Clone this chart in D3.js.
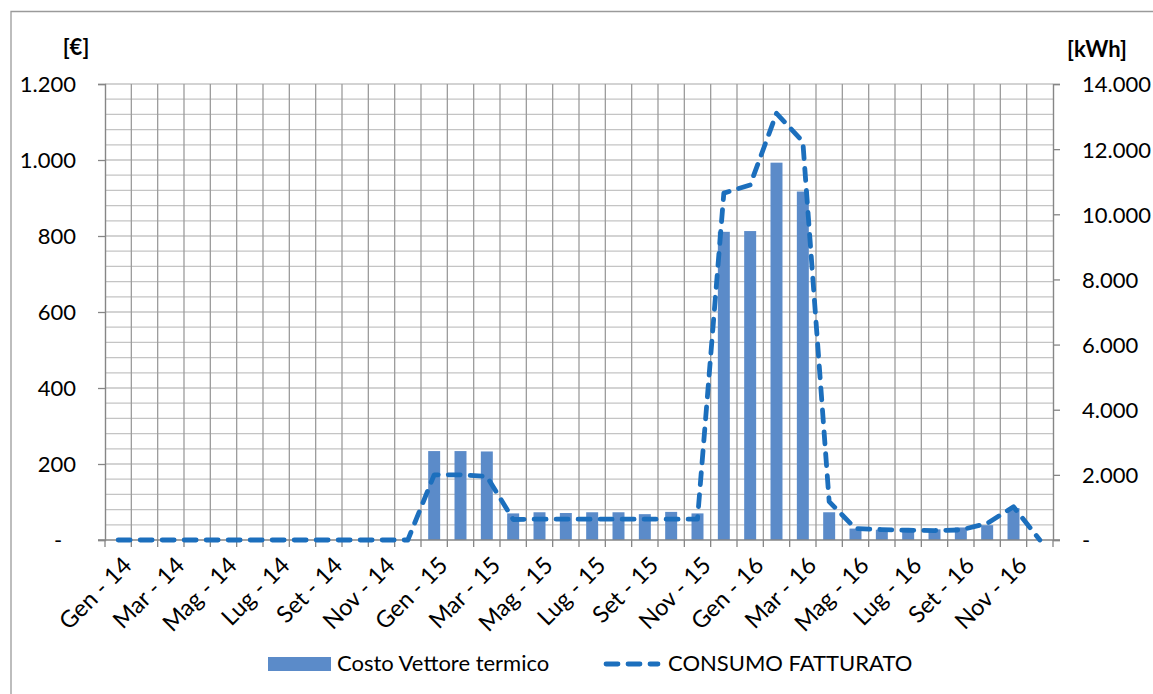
<!DOCTYPE html>
<html>
<head>
<meta charset="utf-8">
<script src="https://cdn.jsdelivr.net/npm/d3@7"></script>
<style>
  html, body { margin: 0; padding: 0; background: #ffffff; }
  svg { display: block; font-family: Lato, "Open Sans", sans-serif; }
</style>
</head>
<body>
<svg id="chart" width="1153" height="694"></svg>
<script>
// Monthly categories, January 2014 – December 2016
const categories = [
  "Gen - 14","Feb - 14","Mar - 14","Apr - 14","Mag - 14","Giu - 14","Lug - 14","Ago - 14","Set - 14","Ott - 14","Nov - 14","Dic - 14",
  "Gen - 15","Feb - 15","Mar - 15","Apr - 15","Mag - 15","Giu - 15","Lug - 15","Ago - 15","Set - 15","Ott - 15","Nov - 15","Dic - 15",
  "Gen - 16","Feb - 16","Mar - 16","Apr - 16","Mag - 16","Giu - 16","Lug - 16","Ago - 16","Set - 16","Ott - 16","Nov - 16","Dic - 16"
];

// Costo Vettore termico [€]
const costo = [
  0, 0, 0, 0, 0, 0, 0, 0, 0, 0, 0, 0,
  234, 234, 233, 70, 73, 71, 73, 73, 68, 74, 70, 811,
  813, 993, 917, 73, 30, 27, 26, 28, 33, 39, 84, 0
];

// CONSUMO FATTURATO [kWh]
const consumo = [
  0, 0, 0, 0, 0, 0, 0, 0, 0, 0, 0, 0,
  2000, 2000, 1950, 630, 640, 640, 640, 640, 640, 640, 640, 10650,
  10900, 13100, 12230, 1180, 350, 320, 300, 290, 310, 510, 1020, 0
];

// Axis tick values and labels
const leftTicks = [0, 200, 400, 600, 800, 1000, 1200];
const rightTicks = [0, 2000, 4000, 6000, 8000, 10000, 12000, 14000];
const xLabelEvery = 2;

const legendNames = ["Costo Vettore termico", "CONSUMO FATTURATO"];

const svg = d3.select("#chart");
const plot = { left: 105, right: 1053, top: 84, bottom: 540 };
const fontSize = 22;
const xFontSize = 23.5;

const barColor = "#5b8bc9";
const lineColor = "#1c6fbd";
const axisColor = "#868686";
const dash = "12,10";

const fmt = v => v === 0 ? "-" : d3.format(",")(v).replace(/,/g, ".");

// Scales
const x = d3.scaleBand()
  .domain(categories)
  .range([plot.left, plot.right])
  .paddingInner(0.545)
  .paddingOuter(0.2725);
const yL = d3.scaleLinear().domain([0, 1200]).range([plot.bottom, plot.top]);
const yR = d3.scaleLinear().domain([0, 14000]).range([plot.bottom, plot.top]);

const step = x.step();
const center = c => x(c) + x.bandwidth() / 2;
const boundaries = d3.range(categories.length + 1).map(i => plot.left + i * step);

// Outer chart frame (top and left edges visible)
svg.append("path")
  .attr("d", `M11,694 L11,11.5 L1153,11.5`)
  .attr("fill", "none")
  .attr("stroke", "#9a9a9a")
  .attr("stroke-width", 1.3);

// Horizontal gridlines every 40 €
const gridH = d3.range(40, 1201, 40);
svg.append("g").selectAll("line").data(gridH).join("line")
  .attr("x1", plot.left).attr("x2", plot.right)
  .attr("y1", d => yL(d)).attr("y2", d => yL(d))
  .attr("stroke", "#c4c4c4").attr("stroke-width", 1.3);

// Vertical gridlines at category boundaries
svg.append("g").selectAll("line").data(boundaries.slice(1, -1)).join("line")
  .attr("x1", d => d).attr("x2", d => d)
  .attr("y1", plot.top).attr("y2", plot.bottom)
  .attr("stroke", "#9c9c9c").attr("stroke-width", 1.3);

// Bars
svg.append("g").selectAll("rect").data(categories).join("rect")
  .attr("x", c => x(c))
  .attr("width", x.bandwidth())
  .attr("y", (c, i) => yL(costo[i]))
  .attr("height", (c, i) => plot.bottom - yL(costo[i]))
  .attr("fill", barColor);

// Left axis
const gL = svg.append("g").attr("transform", `translate(${plot.left},0)`)
  .call(d3.axisLeft(yL).tickValues(leftTicks).tickSize(7).tickFormat(fmt));
gL.select(".domain").attr("stroke", axisColor).attr("stroke-width", 1.4);
gL.selectAll(".tick line").attr("stroke", axisColor).attr("stroke-width", 1.3);
gL.selectAll(".tick text")
  .attr("font-family", "Lato, sans-serif").attr("font-size", fontSize).attr("fill", "#000")
  .attr("x", d => d === 0 ? -47 : -29)
  .attr("text-anchor", d => d === 0 ? "middle" : "end")
  .attr("dy", "0.36em");

// Right axis
const gR = svg.append("g").attr("transform", `translate(${plot.right},0)`)
  .call(d3.axisRight(yR).tickValues(rightTicks).tickSize(7).tickFormat(fmt));
gR.select(".domain").attr("stroke", axisColor).attr("stroke-width", 1.4);
gR.selectAll(".tick line").attr("stroke", axisColor).attr("stroke-width", 1.3);
gR.selectAll(".tick text")
  .attr("font-family", "Lato, sans-serif").attr("font-size", fontSize).attr("fill", "#000")
  .attr("x", 29)
  .attr("text-anchor", "start")
  .attr("dy", "0.36em");

// Bottom axis line and category tick marks
svg.append("line")
  .attr("x1", plot.left - 7).attr("x2", plot.right + 7)
  .attr("y1", plot.bottom).attr("y2", plot.bottom)
  .attr("stroke", axisColor).attr("stroke-width", 1.6);
svg.append("g").selectAll("line").data(boundaries).join("line")
  .attr("x1", d => d).attr("x2", d => d)
  .attr("y1", plot.bottom).attr("y2", plot.bottom + 7)
  .attr("stroke", axisColor).attr("stroke-width", 1.3);

// Rotated category labels
svg.append("g").selectAll("text")
  .data(categories.filter((c, i) => i % xLabelEvery === 0))
  .join("text")
  .attr("transform", c => `translate(${center(c) + 3},${plot.bottom + 15}) rotate(-45)`)
  .attr("text-anchor", "end")
  .attr("dy", "0.72em")
  .attr("font-size", xFontSize)
  .attr("fill", "#000")
  .text(c => c);

// Consumption line
const line = d3.line()
  .x((d, i) => center(categories[i]))
  .y(d => yR(d));
svg.append("path")
  .datum(consumo)
  .attr("d", line)
  .attr("fill", "none")
  .attr("stroke", lineColor)
  .attr("stroke-width", 4.8)
  .attr("stroke-linecap", "round")
  .attr("stroke-linejoin", "round")
  .attr("stroke-dasharray", dash);

// Axis unit labels
svg.append("text").attr("x", 76).attr("y", 55).attr("text-anchor", "middle")
  .attr("font-size", fontSize).attr("font-weight", "bold").text("[€]");
svg.append("text").attr("x", 1097).attr("y", 57).attr("text-anchor", "middle")
  .attr("font-size", fontSize).attr("font-weight", "bold").text("[kWh]");

// Legend
const lg = svg.append("g");
lg.append("rect").attr("x", 268).attr("y", 657).attr("width", 63).attr("height", 14).attr("fill", barColor);
lg.append("text").attr("x", 337).attr("y", 671).attr("font-size", fontSize).text(legendNames[0]);
lg.append("line").attr("x1", 606).attr("x2", 658).attr("y1", 664).attr("y2", 664)
  .attr("stroke", lineColor).attr("stroke-width", 4.8)
  .attr("stroke-linecap", "round").attr("stroke-dasharray", dash);
lg.append("text").attr("x", 668).attr("y", 671).attr("font-size", fontSize).text(legendNames[1]);
</script>
</body>
</html>
